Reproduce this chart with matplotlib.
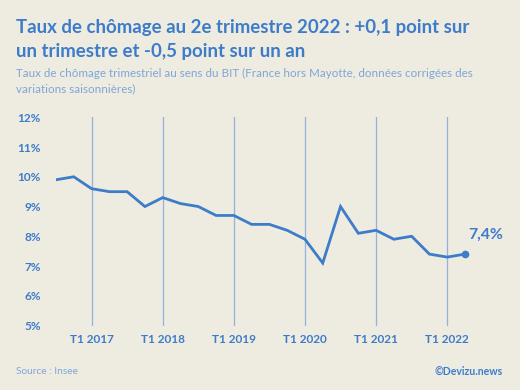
"""Taux de chômage trimestriel (France hors Mayotte), T3 2016 - T2 2022."""
import matplotlib

matplotlib.use("Agg")
import matplotlib.pyplot as plt

# Quarters from T3 2016 to T2 2022
QUARTERS = [
    "T3 2016", "T4 2016",
    "T1 2017", "T2 2017", "T3 2017", "T4 2017",
    "T1 2018", "T2 2018", "T3 2018", "T4 2018",
    "T1 2019", "T2 2019", "T3 2019", "T4 2019",
    "T1 2020", "T2 2020", "T3 2020", "T4 2020",
    "T1 2021", "T2 2021", "T3 2021", "T4 2021",
    "T1 2022", "T2 2022",
]
RATE = [
    9.9, 10.0,
    9.6, 9.5, 9.5, 9.0,
    9.3, 9.1, 9.0, 8.7,
    8.7, 8.4, 8.4, 8.2,
    7.9, 7.1, 9.0, 8.1,
    8.2, 7.9, 8.0, 7.4,
    7.3, 7.4,
]
Y_TICKS = [5, 6, 7, 8, 9, 10, 11, 12]

BG = "#EEEBE1"
BLUE = "#3D7CC9"
LIGHT_BLUE = "#7FA6D8"
GRID_BLUE = "#93B3DC"
FONT = "Lato"

fig = plt.figure(figsize=(5.2, 3.9), dpi=100, facecolor=BG)
ax = fig.add_axes((56 / 520, 1 - 325.5 / 390, (465 - 56) / 520, (325.5 - 117.3) / 390))
ax.set_facecolor(BG)

x = list(range(len(QUARTERS)))
t1_idx = [i for i, q in enumerate(QUARTERS) if q.startswith("T1")]

for i in t1_idx:
    ax.axvline(i, color=GRID_BLUE, linewidth=0.9, zorder=1)

ax.plot(x, RATE, color=BLUE, linewidth=2, zorder=3, solid_joinstyle="miter")
ax.plot(x[-1], RATE[-1], "o", color=BLUE, markersize=4.5, zorder=4, clip_on=False)
ax.annotate(
    f"{RATE[-1]:.1f}%".replace(".", ","),
    (x[-1], RATE[-1]),
    xytext=(2, 9),
    textcoords="offset points",
    color=BLUE,
    fontsize=11.3,
    fontweight="bold",
    family=FONT,
    ha="left",
    va="bottom",
)

ax.set_xlim(0, len(QUARTERS) - 1)
ax.set_ylim(Y_TICKS[0], Y_TICKS[-1])
ax.set_yticks(Y_TICKS)
ax.set_yticklabels([f"{v}%" for v in Y_TICKS])
ax.set_xticks(t1_idx)
ax.set_xticklabels([QUARTERS[i] for i in t1_idx])
ax.tick_params(axis="y", length=0, pad=11, labelcolor=BLUE)
ax.tick_params(axis="x", length=0, pad=6, labelcolor=BLUE)
for lbl in ax.get_xticklabels() + ax.get_yticklabels():
    lbl.set_family(FONT)
    lbl.set_fontweight("bold")
    lbl.set_fontsize(8.5)
for s in ax.spines.values():
    s.set_visible(False)

fig.text(16 / 520, 1 - 28 / 390, "Taux de chômage au 2e trimestre 2022 : +0,1 point sur",
         color=BLUE, fontsize=13.4, fontweight="bold", family=FONT, va="center")
fig.text(16 / 520, 1 - 52 / 390, "un trimestre et -0,5 point sur un an",
         color=BLUE, fontsize=13.4, fontweight="bold", family=FONT, va="center")
fig.text(16 / 520, 1 - 73 / 390,
         "Taux de chômage trimestriel au sens du BIT (France hors Mayotte, données corrigées des",
         color=LIGHT_BLUE, fontsize=8.4, family=FONT, va="center")
fig.text(16 / 520, 1 - 89 / 390, "variations saisonnières)",
         color=LIGHT_BLUE, fontsize=8.4, family=FONT, va="center")
fig.text(16 / 520, 1 - 371 / 390, "Source : Insee",
         color=LIGHT_BLUE, fontsize=7.3, family=FONT, va="center")
fig.text(503 / 520, 1 - 371 / 390, "©Devizu.news",
         color=BLUE, fontsize=7.6, fontweight="bold", family=FONT, va="center", ha="right")

fig.savefig("out.png", dpi=100, facecolor=BG)
